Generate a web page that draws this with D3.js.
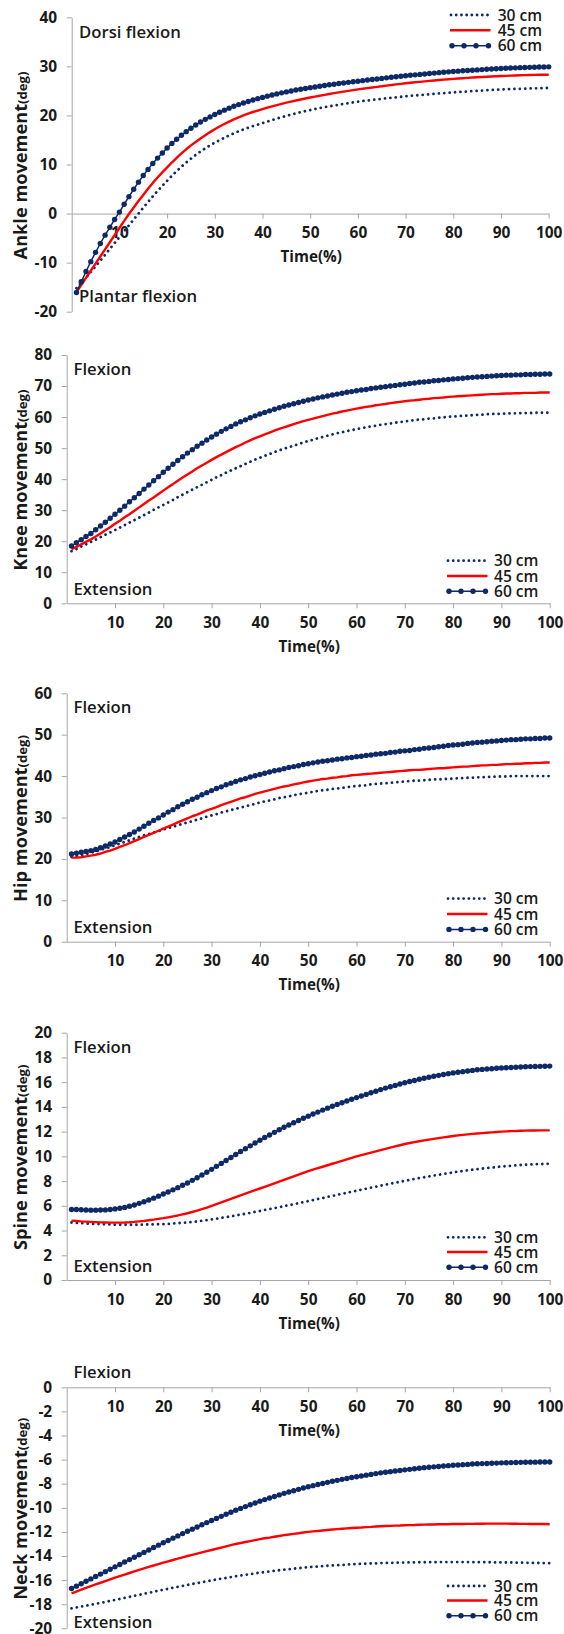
<!DOCTYPE html>
<html><head><meta charset="utf-8">
<script src="https://cdn.jsdelivr.net/npm/d3@7"></script>
<style>
html,body{margin:0;padding:0;background:#fff;}
svg{display:block;}
text{font-family:"Open Sans","Noto Sans",sans-serif;fill:#1a1a1a;}
</style></head><body>
<svg id="c" width="564" height="1634"></svg>
<script>
// ---------- data ----------
const time = [1,2,3,4,5,6,7,8,9,10,11,12,13,14,15,16,17,18,19,20,21,22,23,24,25,26,27,28,29,30,31,32,33,34,35,36,37,38,39,40,41,42,43,44,45,46,47,48,49,50,51,52,53,54,55,56,57,58,59,60,61,62,63,64,65,66,67,68,69,70,71,72,73,74,75,76,77,78,79,80,81,82,83,84,85,86,87,88,89,90,91,92,93,94,95,96,97,98,99,100];
const seriesNames = ["30 cm", "45 cm", "60 cm"];
const xTickValues = [10,20,30,40,50,60,70,80,90,100];

const ankle30 = [-15.2,-14.1,-13.0,-11.9,-10.75,-9.6,-8.4,-7.2,-6.0,-4.8,-3.6,-2.4,-1.2,0.0,1.2,2.35,3.5,4.6,5.65,6.7,7.7,8.65,9.55,10.4,11.2,11.95,12.65,13.3,13.9,14.45,14.97,15.46,15.92,16.36,16.78,17.15,17.5,17.83,18.13,18.43,18.75,19.06,19.36,19.64,19.91,20.17,20.42,20.66,20.88,21.1,21.3,21.49,21.67,21.85,22.02,22.19,22.35,22.5,22.65,22.8,22.93,23.05,23.17,23.28,23.39,23.5,23.6,23.7,23.8,23.9,23.99,24.08,24.16,24.24,24.32,24.4,24.48,24.55,24.62,24.7,24.77,24.83,24.89,24.95,25.01,25.07,25.13,25.19,25.25,25.3,25.34,25.37,25.4,25.43,25.46,25.49,25.52,25.55,25.58,25.6];
const ankle45 = [-16.0,-14.55,-13.1,-11.65,-10.2,-8.75,-7.3,-5.85,-4.4,-2.95,-1.5,-0.1,1.25,2.55,3.8,5.05,6.25,7.35,8.4,9.4,10.4,11.35,12.25,13.1,13.9,14.6,15.3,15.95,16.6,17.2,17.75,18.25,18.75,19.2,19.6,20.0,20.35,20.7,21.0,21.3,21.58,21.85,22.1,22.35,22.6,22.82,23.04,23.25,23.45,23.65,23.84,24.02,24.2,24.37,24.54,24.7,24.85,25.0,25.15,25.3,25.44,25.57,25.7,25.83,25.96,26.08,26.2,26.32,26.44,26.55,26.65,26.75,26.85,26.95,27.04,27.13,27.21,27.29,27.37,27.45,27.52,27.59,27.66,27.72,27.78,27.84,27.89,27.94,27.99,28.03,28.07,28.11,28.15,28.18,28.21,28.24,28.26,28.28,28.3,28.3];
const ankle60 = [-16.1,-13.9,-11.8,-9.8,-7.9,-6.1,-4.4,-2.8,-1.2,0.3,1.9,3.45,4.95,6.4,7.75,9.0,10.2,11.3,12.35,13.35,14.3,15.15,15.95,16.7,17.4,18.05,18.65,19.2,19.7,20.2,20.65,21.08,21.48,21.86,22.21,22.54,22.85,23.14,23.42,23.68,23.93,24.17,24.39,24.6,24.8,24.99,25.17,25.34,25.5,25.66,25.81,25.96,26.1,26.24,26.37,26.5,26.62,26.74,26.86,26.97,27.09,27.21,27.33,27.44,27.55,27.66,27.77,27.88,27.98,28.08,28.18,28.27,28.36,28.45,28.54,28.63,28.72,28.8,28.88,28.96,29.03,29.1,29.16,29.22,29.28,29.34,29.4,29.46,29.52,29.57,29.62,29.66,29.7,29.74,29.77,29.8,29.83,29.86,29.88,29.9];

const knee30 = [16.8,17.5,18.3,19.0,19.8,20.5,21.3,22.1,22.8,23.6,24.4,25.2,26.0,26.8,27.6,28.4,29.2,30.1,30.9,31.7,32.5,33.3,34.2,35.0,35.8,36.6,37.4,38.2,39.0,39.8,40.6,41.3,42.1,42.8,43.5,44.2,44.9,45.6,46.3,46.9,47.5,48.1,48.7,49.3,49.8,50.3,50.8,51.3,51.8,52.3,52.7,53.2,53.6,54.0,54.4,54.8,55.1,55.5,55.8,56.1,56.4,56.7,57.0,57.2,57.5,57.7,57.9,58.2,58.4,58.6,58.8,59.0,59.2,59.3,59.5,59.6,59.8,59.9,60.1,60.2,60.3,60.4,60.5,60.6,60.7,60.8,60.9,61.0,61.0,61.1,61.1,61.2,61.2,61.3,61.3,61.3,61.4,61.4,61.4,61.4];
const knee45 = [17.4,18.2,19.0,19.8,20.6,21.5,22.5,23.5,24.5,25.6,26.6,27.7,28.7,29.8,30.9,32.0,33.1,34.1,35.2,36.3,37.4,38.4,39.5,40.5,41.5,42.5,43.5,44.4,45.3,46.2,47.1,47.9,48.7,49.5,50.3,51.0,51.8,52.5,53.2,53.8,54.4,55.0,55.6,56.2,56.7,57.2,57.7,58.2,58.7,59.1,59.5,59.9,60.3,60.7,61.1,61.4,61.8,62.1,62.4,62.7,63.0,63.3,63.5,63.8,64.0,64.2,64.5,64.7,64.9,65.1,65.3,65.4,65.6,65.8,65.9,66.1,66.2,66.3,66.5,66.6,66.7,66.8,66.9,67.0,67.1,67.2,67.3,67.4,67.4,67.5,67.6,67.6,67.7,67.7,67.8,67.8,67.8,67.9,67.9,67.9];
const knee60 = [18.5,19.5,20.5,21.5,22.5,23.7,24.9,26.1,27.4,28.7,30.0,31.3,32.7,34.0,35.4,36.8,38.1,39.5,40.8,42.2,43.5,44.8,46.0,47.2,48.4,49.5,50.6,51.6,52.6,53.6,54.5,55.4,56.2,57.0,57.8,58.5,59.1,59.8,60.4,61.0,61.5,62.0,62.5,63.0,63.5,63.9,64.3,64.7,65.1,65.5,65.8,66.2,66.5,66.8,67.1,67.4,67.7,68.0,68.2,68.5,68.7,68.9,69.2,69.4,69.6,69.8,70.0,70.2,70.4,70.6,70.8,71.0,71.2,71.3,71.5,71.7,71.8,72.0,72.1,72.3,72.4,72.5,72.7,72.8,72.9,73.0,73.1,73.2,73.3,73.4,73.5,73.5,73.6,73.6,73.7,73.7,73.8,73.8,73.9,73.9];

const hip30 = [20.5,20.7,20.9,21.2,21.5,21.8,22.2,22.5,22.9,23.3,23.7,24.1,24.5,24.9,25.3,25.7,26.0,26.4,26.7,27.1,27.4,27.8,28.1,28.5,28.8,29.1,29.5,29.8,30.2,30.5,30.8,31.2,31.5,31.8,32.1,32.4,32.7,33.0,33.3,33.6,33.9,34.1,34.4,34.7,34.9,35.1,35.4,35.6,35.8,36.0,36.2,36.4,36.6,36.7,36.9,37.0,37.2,37.3,37.5,37.6,37.7,37.8,38.0,38.1,38.2,38.3,38.4,38.5,38.6,38.7,38.8,38.9,38.9,39.0,39.1,39.2,39.2,39.3,39.3,39.4,39.5,39.5,39.6,39.6,39.7,39.7,39.8,39.8,39.9,39.9,39.9,40.0,40.0,40.0,40.0,40.0,40.0,40.0,40.0,40.0];
const hip45 = [20.3,20.3,20.4,20.6,20.8,21.0,21.3,21.7,22.0,22.4,22.9,23.3,23.8,24.3,24.8,25.3,25.8,26.3,26.8,27.3,27.8,28.3,28.8,29.3,29.8,30.3,30.7,31.2,31.7,32.1,32.5,33.0,33.4,33.8,34.2,34.6,34.9,35.3,35.7,36.0,36.3,36.6,36.9,37.2,37.5,37.7,38.0,38.2,38.5,38.7,38.9,39.1,39.3,39.4,39.6,39.7,39.9,40.0,40.2,40.3,40.4,40.5,40.6,40.7,40.8,40.9,41.0,41.1,41.2,41.3,41.4,41.5,41.5,41.6,41.7,41.8,41.9,41.9,42.0,42.1,42.2,42.3,42.3,42.4,42.5,42.6,42.6,42.7,42.7,42.8,42.9,42.9,43.0,43.0,43.1,43.1,43.2,43.2,43.3,43.3];
const hip60 = [21.2,21.4,21.6,21.8,22.0,22.3,22.7,23.1,23.6,24.1,24.7,25.3,25.9,26.5,27.2,27.9,28.6,29.3,29.9,30.6,31.3,31.9,32.6,33.2,33.8,34.4,34.9,35.5,36.0,36.5,37.0,37.4,37.9,38.3,38.7,39.1,39.4,39.8,40.1,40.4,40.7,41.0,41.3,41.5,41.8,42.1,42.3,42.5,42.8,43.0,43.2,43.4,43.6,43.7,43.9,44.1,44.2,44.4,44.5,44.7,44.8,45.0,45.1,45.3,45.4,45.5,45.7,45.8,46.0,46.1,46.2,46.4,46.5,46.7,46.8,46.9,47.1,47.2,47.4,47.5,47.6,47.7,47.9,48.0,48.1,48.2,48.3,48.4,48.5,48.6,48.7,48.8,48.8,48.9,49.0,49.0,49.1,49.1,49.2,49.2];

const spine30 = [4.65,4.62,4.6,4.57,4.55,4.53,4.52,4.5,4.49,4.48,4.47,4.47,4.47,4.47,4.47,4.48,4.49,4.5,4.51,4.52,4.54,4.57,4.6,4.63,4.66,4.7,4.74,4.79,4.84,4.9,4.96,5.02,5.09,5.15,5.22,5.29,5.36,5.43,5.51,5.58,5.66,5.74,5.82,5.89,5.97,6.05,6.13,6.21,6.3,6.38,6.46,6.55,6.63,6.72,6.8,6.88,6.97,7.05,7.14,7.22,7.3,7.38,7.47,7.55,7.63,7.71,7.79,7.87,7.94,8.02,8.09,8.17,8.24,8.31,8.38,8.45,8.51,8.58,8.64,8.7,8.76,8.81,8.87,8.92,8.97,9.01,9.06,9.1,9.14,9.18,9.21,9.24,9.27,9.3,9.32,9.34,9.36,9.37,9.39,9.4];
const spine45 = [4.8,4.77,4.74,4.72,4.7,4.68,4.66,4.65,4.64,4.64,4.64,4.65,4.67,4.7,4.74,4.78,4.83,4.88,4.94,5.0,5.07,5.14,5.22,5.31,5.4,5.5,5.61,5.73,5.86,6.0,6.14,6.28,6.42,6.56,6.7,6.84,6.98,7.12,7.26,7.4,7.54,7.68,7.82,7.96,8.1,8.24,8.38,8.52,8.66,8.8,8.92,9.04,9.16,9.28,9.4,9.52,9.64,9.76,9.88,10.0,10.1,10.2,10.3,10.4,10.5,10.6,10.7,10.8,10.9,11.0,11.08,11.15,11.22,11.29,11.35,11.41,11.47,11.53,11.59,11.65,11.7,11.74,11.78,11.82,11.85,11.88,11.91,11.94,11.97,12.0,12.02,12.04,12.05,12.07,12.08,12.09,12.09,12.1,12.1,12.1];
const spine60 = [5.7,5.7,5.68,5.66,5.65,5.65,5.66,5.67,5.7,5.75,5.8,5.87,5.96,6.07,6.2,6.33,6.47,6.62,6.78,6.95,7.12,7.29,7.47,7.66,7.85,8.06,8.27,8.49,8.72,8.95,9.19,9.43,9.67,9.91,10.15,10.39,10.62,10.85,11.08,11.3,11.52,11.73,11.94,12.15,12.35,12.54,12.72,12.9,13.08,13.25,13.42,13.58,13.74,13.9,14.05,14.2,14.34,14.48,14.62,14.75,14.88,15.01,15.14,15.27,15.4,15.52,15.63,15.74,15.85,15.95,16.05,16.14,16.23,16.32,16.4,16.48,16.55,16.62,16.69,16.75,16.8,16.85,16.9,16.95,17.0,17.03,17.06,17.09,17.12,17.15,17.17,17.19,17.21,17.23,17.25,17.26,17.27,17.28,17.29,17.3];

const neck30 = [-18.35,-18.27,-18.2,-18.12,-18.05,-17.97,-17.89,-17.81,-17.73,-17.65,-17.56,-17.48,-17.39,-17.31,-17.22,-17.14,-17.05,-16.97,-16.88,-16.8,-16.72,-16.64,-16.56,-16.48,-16.4,-16.32,-16.25,-16.17,-16.1,-16.02,-15.95,-15.88,-15.82,-15.75,-15.68,-15.62,-15.56,-15.5,-15.44,-15.38,-15.33,-15.28,-15.23,-15.18,-15.13,-15.09,-15.05,-15.01,-14.97,-14.93,-14.9,-14.87,-14.84,-14.81,-14.78,-14.76,-14.74,-14.71,-14.69,-14.67,-14.65,-14.64,-14.62,-14.61,-14.59,-14.58,-14.57,-14.56,-14.55,-14.54,-14.53,-14.53,-14.52,-14.52,-14.51,-14.51,-14.5,-14.5,-14.5,-14.5,-14.5,-14.5,-14.5,-14.51,-14.51,-14.51,-14.52,-14.52,-14.53,-14.53,-14.54,-14.54,-14.55,-14.55,-14.56,-14.57,-14.58,-14.58,-14.59,-14.6];
const neck45 = [-17.1,-16.95,-16.8,-16.65,-16.5,-16.36,-16.22,-16.08,-15.94,-15.8,-15.67,-15.54,-15.41,-15.28,-15.15,-15.03,-14.91,-14.79,-14.67,-14.55,-14.44,-14.33,-14.22,-14.11,-14.0,-13.9,-13.8,-13.7,-13.6,-13.5,-13.4,-13.3,-13.2,-13.1,-13.0,-12.92,-12.84,-12.76,-12.68,-12.6,-12.53,-12.47,-12.4,-12.34,-12.27,-12.22,-12.16,-12.11,-12.05,-12.0,-11.96,-11.92,-11.88,-11.84,-11.8,-11.77,-11.74,-11.71,-11.68,-11.65,-11.63,-11.6,-11.58,-11.55,-11.53,-11.51,-11.5,-11.48,-11.47,-11.45,-11.44,-11.43,-11.41,-11.4,-11.39,-11.38,-11.37,-11.37,-11.36,-11.35,-11.34,-11.34,-11.33,-11.33,-11.32,-11.32,-11.31,-11.31,-11.31,-11.31,-11.31,-11.32,-11.32,-11.33,-11.33,-11.34,-11.34,-11.35,-11.35,-11.36];
const neck60 = [-16.7,-16.5,-16.3,-16.1,-15.9,-15.7,-15.5,-15.3,-15.1,-14.9,-14.7,-14.5,-14.3,-14.1,-13.9,-13.7,-13.5,-13.3,-13.1,-12.9,-12.71,-12.52,-12.33,-12.14,-11.95,-11.77,-11.59,-11.41,-11.23,-11.05,-10.88,-10.71,-10.54,-10.37,-10.2,-10.05,-9.9,-9.75,-9.6,-9.45,-9.32,-9.19,-9.06,-8.93,-8.8,-8.69,-8.58,-8.47,-8.36,-8.25,-8.16,-8.07,-7.98,-7.89,-7.8,-7.72,-7.64,-7.57,-7.49,-7.42,-7.36,-7.29,-7.23,-7.16,-7.1,-7.05,-7.0,-6.95,-6.9,-6.85,-6.81,-6.76,-6.72,-6.67,-6.63,-6.6,-6.57,-6.53,-6.5,-6.47,-6.45,-6.42,-6.4,-6.37,-6.35,-6.33,-6.32,-6.3,-6.29,-6.27,-6.26,-6.25,-6.24,-6.23,-6.22,-6.21,-6.21,-6.2,-6.2,-6.2];

const ankleYTicks = [-20,-10,0,10,20,30,40];
const kneeYTicks = [0,10,20,30,40,50,60,70,80];
const hipYTicks = [0,10,20,30,40,50,60];
const spineYTicks = [0,2,4,6,8,10,12,14,16,18,20];
const neckYTicks = [0,-2,-4,-6,-8,-10,-12,-14,-16,-18,-20];

const yTitles = ["Ankle movement","Knee movement","Hip movement","Spine movement","Neck movement"];
const yUnit = "(deg)";
const xTitle = "Time(%)";
const upperLabels = ["Dorsi flexion","Flexion","Flexion","Flexion","Flexion"];
const lowerLabels = ["Plantar flexion","Extension","Extension","Extension","Extension"];

// ---------- panel table (built from the arrays above) ----------
const panels = [
  {title:yTitles[0], upper:upperLabels[0], lower:lowerLabels[0], ticks:ankleYTicks, s:[ankle30,ankle45,ankle60]},
  {title:yTitles[1], upper:upperLabels[1], lower:lowerLabels[1], ticks:kneeYTicks,  s:[knee30,knee45,knee60]},
  {title:yTitles[2], upper:upperLabels[2], lower:lowerLabels[2], ticks:hipYTicks,   s:[hip30,hip45,hip60]},
  {title:yTitles[3], upper:upperLabels[3], lower:lowerLabels[3], ticks:spineYTicks, s:[spine30,spine45,spine60]},
  {title:yTitles[4], upper:upperLabels[4], lower:lowerLabels[4], ticks:neckYTicks,  s:[neck30,neck45,neck60]}
];

// ---------- layout ----------
const layout = [
  {left:71.7, right:548.7, top:17.3,   bottom:311.7,  labelX:79,   upperY:38.3,   lowerY:301.7,  legX:450, legTX:497.7, legY:[15,30.3,45.7]},
  {left:66.7, right:549.7, top:355,    bottom:603.3,  labelX:73.5, upperY:375,    lowerY:595,    legX:447, legTX:494,   legY:[560.7,576,591.3]},
  {left:66.7, right:549.7, top:693.3,  bottom:941.7,  labelX:73.5, upperY:713.3,  lowerY:933.3,  legX:447, legTX:494,   legY:[898.6,914,929.4]},
  {left:66.7, right:549.7, top:1032.7, bottom:1280,   labelX:73.5, upperY:1052.7, lowerY:1271.7, legX:447, legTX:494,   legY:[1237.3,1252,1267.3]},
  {left:66.7, right:549.7, top:1387.3, bottom:1628.3, labelX:73.5, upperY:1378.3, lowerY:1628.3, legX:447, legTX:494,   legY:[1586,1600.5,1615.7]}
];

const NAVY = "#0e2a66", RED = "#ff0000", AXIS = "#a6a6a6";
const svg = d3.select("#c");

function drawSeries(g, k, pts, x, y) {
  const line = d3.line().x(d => x(d.t)).y(d => y(d.v));
  if (k === 0) {
    g.append("path").datum(pts).attr("d", line).attr("fill","none")
      .attr("stroke", NAVY).attr("stroke-width", 2.8)
      .attr("stroke-linecap","round").attr("stroke-dasharray","0.01 5.4");
  } else if (k === 1) {
    g.append("path").datum(pts).attr("d", line).attr("fill","none")
      .attr("stroke", RED).attr("stroke-width", 2.4).attr("stroke-linejoin","round");
  } else {
    g.append("path").datum(pts).attr("d", line).attr("fill","none")
      .attr("stroke", NAVY).attr("stroke-width", 1.5);
    g.selectAll(null).data(pts).enter().append("circle")
      .attr("cx", d => x(d.t)).attr("cy", d => y(d.v)).attr("r", 2.7).attr("fill", NAVY);
  }
}

panels.forEach((p, i) => {
  const L = layout[i];
  const ext = d3.extent(p.ticks);
  const x = d3.scaleLinear().domain([0, 100]).range([L.left, L.right]);
  const y = d3.scaleLinear().domain(ext).range([L.bottom, L.top]);
  const g = svg.append("g");

  const ya = g.append("g").attr("transform", `translate(${L.left},0)`)
    .call(d3.axisLeft(y).tickValues(p.ticks).tickSize(5).tickSizeOuter(0).tickPadding(9.5).tickFormat(d => String(d)));
  const xa = g.append("g").attr("transform", `translate(0,${y(0)})`)
    .call(d3.axisBottom(x).tickValues(xTickValues).tickSize(5).tickSizeOuter(0).tickPadding(8.5).tickFormat(d => String(d)));
  [ya, xa].forEach(a => {
    a.attr("font-family", null).attr("font-size", null);
    a.selectAll("path.domain").attr("stroke", AXIS).attr("stroke-width", 1);
    a.selectAll(".tick line").attr("stroke", AXIS).attr("stroke-width", 1);
    a.selectAll(".tick text").attr("class", "tk").attr("fill", "#1a1a1a").style("font-size", "15px").style("font-weight", "700");
  });
  xa.selectAll(".tick text").attr("dy", null).attr("dominant-baseline", null).attr("y", 24.5);

  g.append("text").attr("class", "xt").attr("x", (L.left + L.right) / 2 + 1).attr("y", y(0) + 48.5)
    .attr("text-anchor", "middle").style("font-size", "15px").style("font-weight", "700").text(xTitle);

  const yt = g.append("text").attr("class", "yt").attr("transform", `translate(26.7,${(L.top + L.bottom) / 2 + 1}) rotate(-90)`)
    .attr("text-anchor", "middle").style("font-weight", "700");
  yt.append("tspan").attr("class", "ytMain").style("font-size", "18px").text(p.title);
  yt.append("tspan").attr("class", "ytUnit").style("font-size", "13px").text(yUnit);

  g.append("text").attr("class", "dir" + (i === 0 ? " dirA" : "")).attr("x", L.labelX).attr("y", L.upperY).style("font-size", "17.5px").style("font-weight", "600").text(p.upper);
  g.append("text").attr("class", "dir" + (i === 0 ? " dirA" : "")).attr("x", L.labelX).attr("y", L.lowerY).style("font-size", "17.5px").style("font-weight", "600").text(p.lower);

  p.s.forEach((vals, k) => {
    const pts = time.map((t, j) => ({t: t, v: vals[j]}));
    drawSeries(g.append("g"), k, pts, x, y);
  });

  const lg = g.append("g");
  seriesNames.forEach((name, k) => {
    const ly = L.legY[k];
    const x0 = L.legX, x1 = L.legX + 40.5;
    if (k === 0) {
      lg.append("line").attr("x1", x0 + 1).attr("x2", x1).attr("y1", ly).attr("y2", ly)
        .attr("stroke", NAVY).attr("stroke-width", 2.8).attr("stroke-linecap","round").attr("stroke-dasharray","0.01 5.2");
    } else if (k === 1) {
      lg.append("line").attr("x1", x0).attr("x2", x1).attr("y1", ly).attr("y2", ly)
        .attr("stroke", RED).attr("stroke-width", 2.6);
    } else {
      lg.append("line").attr("x1", x0).attr("x2", x1).attr("y1", ly).attr("y2", ly)
        .attr("stroke", NAVY).attr("stroke-width", 1.5);
      [2, 14, 26, 38.5].forEach(o => lg.append("circle").attr("cx", x0 + o).attr("cy", ly).attr("r", 2.7).attr("fill", NAVY));
    }
    lg.append("text").attr("class", "lgt").attr("x", L.legTX).attr("y", ly + 5.5).style("font-size", "16px").style("font-weight", "600").text(name);
  });
});

// ---------- size fonts so rendered text widths match the reference ----------
function fitClass(sel, sampleNode, target) {
  const w = sampleNode.getComputedTextLength();
  const fs = parseFloat(getComputedStyle(sampleNode).fontSize);
  if (w > 0) sel.style("font-size", (fs * target / w) + "px");
}
const tks = svg.selectAll("text.tk").filter(function(){ return this.textContent === "100"; });
fitClass(svg.selectAll("text.tk"), tks.node(), 26.5);
fitClass(svg.selectAll("text.xt"), svg.select("text.xt").node(), 61.5);
fitClass(svg.selectAll("text.lgt"), svg.select("text.lgt").node(), 44.5);
const ext = svg.selectAll("text.dir").filter(function(){ return this.textContent === "Extension"; });
fitClass(svg.selectAll("text.dir"), ext.node(), 79);
(function(){
  const n = svg.select("text.yt").node();
  const w = n.getComputedTextLength();
  const k = 188 / w;
  svg.selectAll("tspan.ytMain").style("font-size", (18 * k) + "px");
  svg.selectAll("tspan.ytUnit").style("font-size", (13 * k) + "px");
})();
</script>
</body></html>
